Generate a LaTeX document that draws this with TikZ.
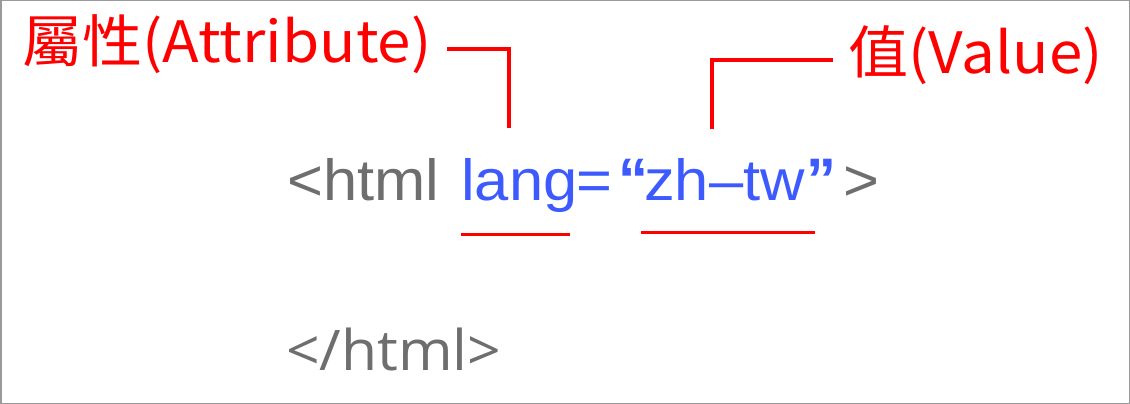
\documentclass[tikz,border=0pt]{standalone}
\usepackage{fontspec}
\setmainfont{Liberation Sans}
\newfontfamily\cjkfont[FakeStretch=1.055]{Noto Sans CJK TC}
\newfontfamily\codefont[FakeStretch=1.06]{Liberation Sans}
\newfontfamily\quotefont{Liberation Sans Bold}
\newfontfamily\closefont[FakeStretch=1.05]{Open Sans}
\definecolor{tagGray}{HTML}{6E6E6E}
\definecolor{attrBlue}{HTML}{3D5AFE}
\definecolor{markRed}{HTML}{FF0000}
\definecolor{frameGray}{HTML}{9A9A9A}
\begin{document}
\begin{tikzpicture}[x=1pt,y=-1pt,
  redlabel/.style={font=\cjkfont\fontsize{57}{57}\selectfont, text=markRed, inner sep=0pt, anchor=base west},
  codetag/.style={font=\codefont\fontsize{58}{58}\selectfont, text=tagGray, inner sep=0pt, anchor=base west},
  codeattr/.style={codetag, text=attrBlue},
  codequote/.style={font=\quotefont\fontsize{60}{60}\selectfont, text=attrBlue, inner sep=0pt, anchor=base west},
  closetag/.style={font=\closefont\fontsize{56}{56}\selectfont, text=tagGray, inner sep=0pt, anchor=base west},
  bracket/.style={draw=markRed, line width=4pt},
  underline/.style={draw=markRed, line width=3pt}]
% canvas and frame
\fill[white] (0,0) rectangle (1130,404);
\draw[frameGray, line width=1.5pt] (0.75,0.75) rectangle (1129.25,403.25);
\useasboundingbox (0,0) rectangle (1130,404);

% labels
\node[redlabel] (attrlabel) at (22,63) {屬性(Attribute)};
\node[redlabel] (valuelabel) at (848,74) {值(Value)};

% opening tag
\node[codetag]   (open) at (287,200) {<html};
\node[codeattr]  (lang) at (461,200) {lang};
\node[codeattr]  (eq)   at (576,200) {=};
\node[codequote] (lq)   at (618,200) {“};
\node[codeattr]  (val)  at (644,200) {zh–tw};
\node[codequote] (rq)   at (806,200) {”};
\node[codetag]   (gt)   at (843,200) {>};

% closing tag
\node[closetag] (close) at (286,370) {</html>};

% underlines
\coordinate (u1a) at (461,234); \coordinate (u1b) at (570,234);
\coordinate (u2a) at (641,232); \coordinate (u2b) at (815,232);
\draw[underline] (u1a) -- (u1b);
\draw[underline] (u2a) -- (u2b);

% brackets from labels to the attribute and value
\coordinate (b1s) at (447,49); \coordinate (b1c) at (509,49); \coordinate (b1e) at (509,128);
\draw[bracket] (b1s) -- (b1c) -- (b1e);
\coordinate (b2s) at (833,60); \coordinate (b2c) at (712,60); \coordinate (b2e) at (712,129);
\draw[bracket] (b2s) -- (b2c) -- (b2e);
\end{tikzpicture}
\end{document}
